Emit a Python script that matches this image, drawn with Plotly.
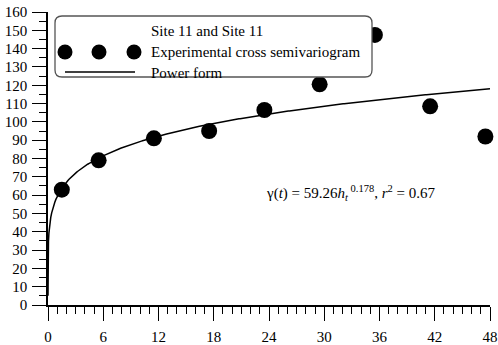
import numpy as np
import plotly.graph_objects as go

# Experimental cross semivariogram (lag h_t, gamma)
lags = [1.5, 5.5, 11.5, 17.5, 23.5, 29.5, 35.5, 41.5, 47.5]
gamma = [63, 79, 91, 95, 106.5, 120.5, 147.5, 108.5, 92]

# Fitted power model: gamma(t) = a * h^b
power_a = 59.26
power_b = 0.178
r_squared = 0.67

x_ticks = [0, 6, 12, 18, 24, 30, 36, 42, 48]
y_ticks = list(range(0, 161, 10))

h_fit = np.concatenate([[1e-6, 1e-4, 1e-3, 0.01, 0.05, 0.1, 0.2, 0.3, 0.4], np.linspace(0.5, 48, 400)])
gamma_fit = power_a * h_fit ** power_b

W, H = 498, 345
ML, MR, MT, MB = 48, 8, 12, 40
X_RANGE = (0, 48)
Y_RANGE = (0, 160)
PW, PH = W - ML - MR, H - MT - MB


def px_x(px):
    return X_RANGE[0] + (px - ML) / PW * (X_RANGE[1] - X_RANGE[0])


def px_y(py):
    return Y_RANGE[0] + (H - MB - py) / PH * (Y_RANGE[1] - Y_RANGE[0])


FONT = "Liberation Serif"
TXT = dict(family=FONT, size=15, color="black")

fig = go.Figure()
fig.add_trace(go.Scatter(x=h_fit, y=gamma_fit, mode="lines",
                         line=dict(color="black", width=1.5),
                         showlegend=False, hoverinfo="skip"))
fig.add_trace(go.Scatter(x=lags, y=gamma, mode="markers",
                         marker=dict(color="black", size=16),
                         showlegend=False, cliponaxis=False))

# legend box with rounded corners
bx0, bx1, by0, by1, rad = 55, 372, 16, 77, 7
p = [
    f"M {px_x(bx0 + rad)},{px_y(by0)}",
    f"L {px_x(bx1 - rad)},{px_y(by0)}",
    f"Q {px_x(bx1)},{px_y(by0)} {px_x(bx1)},{px_y(by0 + rad)}",
    f"L {px_x(bx1)},{px_y(by1 - rad)}",
    f"Q {px_x(bx1)},{px_y(by1)} {px_x(bx1 - rad)},{px_y(by1)}",
    f"L {px_x(bx0 + rad)},{px_y(by1)}",
    f"Q {px_x(bx0)},{px_y(by1)} {px_x(bx0)},{px_y(by1 - rad)}",
    f"L {px_x(bx0)},{px_y(by0 + rad)}",
    f"Q {px_x(bx0)},{px_y(by0)} {px_x(bx0 + rad)},{px_y(by0)} Z",
]
shapes = [dict(type="path", path=" ".join(p), xref="x", yref="y",
               line=dict(color="#555555", width=1.3), fillcolor="white", layer="above")]

# legend glyphs: three dots and a line segment
for cx in (65, 99, 134):
    shapes.append(dict(type="circle", xref="x", yref="y", xsizemode="pixel", ysizemode="pixel",
                       xanchor=px_x(cx), yanchor=px_y(52), x0=-7.5, x1=7.5, y0=-7.5, y1=7.5,
                       fillcolor="black", line=dict(color="black", width=0), layer="above"))
shapes.append(dict(type="line", xref="x", yref="y", x0=px_x(65), x1=px_x(135),
                   y0=px_y(72), y1=px_y(72), line=dict(color="black", width=1.5), layer="above"))

annotations = []
for text, py in (("Site 11 and Site 11", 31), ("Experimental cross semivariogram", 52), ("Power form", 73)):
    annotations.append(dict(x=px_x(149), y=px_y(py), xref="x", yref="y", text=text,
                            showarrow=False, xanchor="left", yanchor="middle", font=TXT))

annotations.append(dict(
    x=px_x(350), y=px_y(193), xref="x", yref="y", showarrow=False, xanchor="center", yanchor="middle",
    text=(f"γ(<i>t</i>) = {power_a}<i>h</i><sub><i>t</i></sub><sup> {power_b}</sup>, "
          f"<i>r</i><sup>2</sup> = {r_squared}"),
    font=TXT))

axis_common = dict(showgrid=False, zeroline=False, showline=True, linecolor="black", linewidth=1.5,
                   ticks="outside", tickcolor="black", tickwidth=1.3, ticklen=14,
                   tickfont=TXT, automargin=False, fixedrange=True)

fig.update_layout(
    width=W, height=H,
    margin=dict(l=ML, r=MR, t=MT, b=MB, pad=0),
    paper_bgcolor="white", plot_bgcolor="white",
    font=TXT,
    xaxis=dict(range=list(X_RANGE), tickvals=x_ticks, ticklabelstandoff=3, **axis_common,
               minor=dict(dtick=1, ticklen=7, tickcolor="black", tickwidth=1.3, ticks="outside")),
    yaxis=dict(range=list(Y_RANGE), tickvals=y_ticks, ticklabelstandoff=2, **axis_common,
               minor=dict(dtick=5, ticklen=7, tickcolor="black", tickwidth=1.3, ticks="outside")),
    shapes=shapes, annotations=annotations, showlegend=False,
)

fig.write_html("out.html")
